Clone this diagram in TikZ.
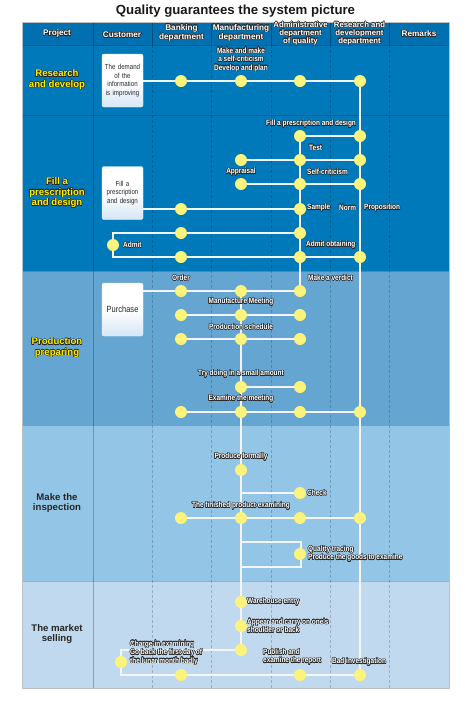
\documentclass[tikz,border=0pt]{standalone}
\usepackage{fontspec}
\setmainfont{Liberation Sans}
\newfontfamily\narrowfont[FakeStretch=0.84]{Liberation Sans}
\usepackage{contour}
\contourlength{0.5pt}
\contournumber{16}
\definecolor{hdrc}{HTML}{0070B0}
\definecolor{bandA}{HTML}{0079BA}
\definecolor{bandB}{HTML}{64A5D2}
\definecolor{bandC}{HTML}{93C5E7}
\definecolor{bandD}{HTML}{C0D9EE}
\definecolor{dotc}{HTML}{FBF37C}
\definecolor{olc}{HTML}{2A2A2A}
\definecolor{boxc}{HTML}{D5E6F5}
\definecolor{yel}{HTML}{FFF200}
\definecolor{linec}{HTML}{F2F6FA}
\newcommand\ol[1]{\contour{olc}{#1}}
\pgfdeclarelayer{bg}
\pgfdeclarelayer{lines}
\pgfsetlayers{bg,lines,main}
\tikzset{
  dot/.style={circle, fill=dotc, minimum size=12pt, inner sep=0pt},
  lbl/.style={font=\narrowfont\bfseries\fontsize{7.7}{8.4}\selectfont, text=white, inner sep=0pt, align=center},
  lbll/.style={lbl, anchor=west, align=left},
  hdr/.style={font=\bfseries\fontsize{8.2}{8}\selectfont, text=white, inner sep=0pt, align=center},
  hdrs/.style={font=\bfseries\fontsize{7.8}{7.8}\selectfont, text=white, inner sep=0pt, align=center},
  rowlbl/.style={font=\bfseries\fontsize{9.6}{10.5}\selectfont, text=yel, inner sep=0pt, align=center},
  rowlbld/.style={font=\bfseries\fontsize{9.6}{10.5}\selectfont, text=black!85, inner sep=0pt, align=center},
  cbox/.style={draw=white!70!boxc, rounded corners=2pt, top color=white, bottom color=boxc, middle color=white,
    minimum width=41pt, minimum height=53pt, text width=39pt, align=center, inner sep=0pt,
    font=\narrowfont\fontsize{7.3}{8.6}\selectfont, text=black!85},
  flow/.style={draw=linec, line width=1.1pt},
  coldiv/.style={draw=black, draw opacity=0.2, line width=0.6pt, dash pattern=on 2.5pt off 2.5pt},
}
\begin{document}
\begin{tikzpicture}[x=1pt,y=-1pt]
\useasboundingbox (0,0) rectangle (471,710);
\begin{pgfonlayer}{bg}
  \fill[white] (0,0) rectangle (471,710);
  \fill[hdrc] (22,22) rectangle (449,45);
  \fill[bandA] (22,45) rectangle (449,271);
  \fill[bandB] (22,271) rectangle (449,425);
  \fill[bandC] (22,425) rectangle (449,581);
  \fill[bandD] (22,581) rectangle (449,688);
  \foreach \yy in {45,115,271,425,581}
    \draw[black, opacity=0.18, line width=1pt] (22,\yy) -- (449,\yy);
  \foreach \xx in {93,152,211,271,330,389}
    \draw[black, opacity=0.3, line width=0.6pt] (\xx,22) -- (\xx,45);
  \draw[black, opacity=0.25, line width=0.6pt] (93,45) -- (93,688);
  \foreach \xx in {152,211,271,330,389}
    \draw[coldiv] (\xx,45) -- (\xx,688);
  \draw[black!25, line width=0.8pt] (22,22) rectangle (449,688);
\end{pgfonlayer}

% title
\node[font=\bfseries\fontsize{13.2}{15}\selectfont, text=black!90, inner sep=0pt] (title) at (235.5,11) {Quality guarantees the system picture};

% header
\node[hdr] (hProj) at (57,34) {\ol{Project}};
\node[hdr] (hCust) at (122,35) {\ol{Customer}};
\node[hdr] (hBank) at (181.5,33) {\ol{Banking}\\\ol{department}};
\node[hdr] (hManu) at (241,33) {\ol{Manufacturing}\\\ol{department}};
\node[hdrs] (hAdm) at (300.5,33.5) {\ol{Administrative}\\\ol{department}\\\ol{of quality}};
\node[hdrs] (hRD) at (359.5,33.5) {\ol{Research and}\\\ol{development}\\\ol{department}};
\node[hdr] (hRem) at (419,34) {\ol{Remarks}};

% row labels
\node[rowlbl] (lRes) at (57,80) {\ol{Research}\\\ol{and develop}};
\node[rowlbl] (lFill) at (57,193) {\ol{Fill a}\\\ol{prescription}\\\ol{and design}};
\node[rowlbl] (lProd) at (57,348) {\ol{Production}\\\ol{preparing}};
\node[rowlbld] (lIns) at (57,503) {Make the\\inspection};
\node[rowlbld] (lMkt) at (57,634) {The market\\selling};

% customer boxes
\node[cbox] (bx1) at (122.5,80.5) {The demand\\of the\\information\\is improving};
\node[cbox] (bx2) at (122.5,193) {Fill a\\prescription\\and design};
\node[cbox, font=\narrowfont\fontsize{9}{10}\selectfont] (bx3) at (122.5,309.5) {Purchase};

% research dots
\node[dot] (r1) at (181,81) {};
\node[dot] (r2) at (241,81) {};
\node[dot] (r3) at (300,81) {};
\node[dot] (r4) at (360,81) {};
% fill dots
\node[dot] (f1b) at (300,136) {};
\node[dot] (f1c) at (360,136) {};
\node[dot] (f2a) at (241,160) {};
\node[dot] (f2b) at (300,160) {};
\node[dot] (f2c) at (360,160) {};
\node[dot] (f3a) at (241,184) {};
\node[dot] (f3b) at (300,184) {};
\node[dot] (f3c) at (360,184) {};
\node[dot] (f4a) at (181,209) {};
\node[dot] (f4b) at (300,209) {};
\node[dot] (f5a) at (181,233) {};
\node[dot] (f5b) at (300,233) {};
\node[dot] (adm) at (113,245) {};
\node[dot] (f6a) at (181,257) {};
\node[dot] (f6b) at (300,257) {};
\node[dot] (f6c) at (360,257) {};
\coordinate (ac1) at (113,233);
\coordinate (ac2) at (113,257);
% production dots
\node[dot] (p1a) at (181,291) {};
\node[dot] (p1b) at (241,291) {};
\node[dot] (p1c) at (300,291) {};
\node[dot] (p2a) at (181,315) {};
\node[dot] (p2b) at (241,315) {};
\node[dot] (p2c) at (300,315) {};
\node[dot] (p3a) at (181,339) {};
\node[dot] (p3b) at (241,339) {};
\node[dot] (p3c) at (300,339) {};
\node[dot] (p4b) at (241,387) {};
\node[dot] (p4c) at (300,387) {};
\node[dot] (p5a) at (181,412) {};
\node[dot] (p5b) at (241,412) {};
\node[dot] (p5c) at (300,412) {};
\node[dot] (p5d) at (360,412) {};
% inspection dots
\node[dot] (i1) at (241,470) {};
\node[dot] (chk) at (300,493) {};
\coordinate (ck0) at (241,493);
\node[dot] (i2a) at (181,518) {};
\node[dot] (i2b) at (241,518) {};
\node[dot] (i2c) at (300,518) {};
\node[dot] (i2d) at (360,518) {};
\node[dot] (qt) at (300,554) {};
\coordinate (q0) at (241,542);
\coordinate (q1) at (301,542);
\coordinate (q2) at (301,567);
\coordinate (q3) at (241,567);
% market dots
\node[dot] (m1) at (241,602) {};
\node[dot] (m2) at (241,626) {};
\node[dot] (m3) at (241,650) {};
\node[dot] (m4) at (121,662) {};
\node[dot] (m5a) at (181,675) {};
\node[dot] (m5b) at (300,675) {};
\node[dot] (m5c) at (360,675) {};
\coordinate (mc1) at (121,650);
\coordinate (mc2) at (121,675);

% connectors
\begin{pgfonlayer}{lines}
  \draw[flow] (r4) -- (m5c);
  \draw[flow] (f1b) -- (p1c);
  \draw[flow] (p1b) -- (m3);
  \draw[flow] (bx1.east |- r1) -- (r1) -- (r2) -- (r3) -- (r4);
  \draw[flow] (f1b) -- (f1c);
  \draw[flow] (f2a) -- (f2b) -- (f2c);
  \draw[flow] (f3a) -- (f3b) -- (f3c);
  \draw[flow] (bx2.east |- f4a) -- (f4a) -- (f4b);
  \draw[flow] (f5b) -- (f5a) -- (ac1) -- (ac2) -- (f6a) -- (f6b) -- (f6c);
  \draw[flow] (bx3.east |- p1a) -- (p1a) -- (p1b) -- (p1c);
  \draw[flow] (p2a) -- (p2b) -- (p2c);
  \draw[flow] (p3a) -- (p3b) -- (p3c);
  \draw[flow] (p4b) -- (p4c);
  \draw[flow] (p5a) -- (p5b) -- (p5c) -- (p5d);
  \draw[flow] (ck0) -- (chk);
  \draw[flow] (i2a) -- (i2b) -- (i2c) -- (i2d);
  \draw[flow] (q0) -- (q1) -- (q2) -- (q3);
  \draw[flow] (m3) -- (mc1) -- (mc2) -- (m5a) -- (m5b) -- (m5c);
\end{pgfonlayer}

% labels
\node[lbl] (tR1) at (241,60) {\ol{Make and make}\\\ol{a self-criticism}\\\ol{Develop and plan}};
\node[lbl] (tF1) at (311,124) {\ol{Fill a prescription and design}};
\node[lbll] (tF2) at (309,148) {\ol{Test}};
\node[lbl] (tF3) at (241,172) {\ol{Appraisal}};
\node[lbll] (tF4) at (307,172) {\ol{Self-criticism}};
\node[lbll] (tF5) at (307,208) {\ol{Sample}};
\node[lbll] (tF6) at (339,208) {\ol{Norm}};
\node[lbll] (tF7) at (364,208) {\ol{Proposition}};
\node[lbll] (tF8) at (123,245) {\ol{Admit}};
\node[lbll] (tF9) at (306,245) {\ol{Admit obtaining}};
\node[lbl] (tP1) at (181,278) {\ol{Order}};
\node[lbll] (tP2) at (308,278) {\ol{Make a verdict}};
\node[lbl] (tP3) at (241,302) {\ol{Manufacture Meeting}};
\node[lbl] (tP4) at (241,327) {\ol{Production schedule}};
\node[lbl] (tP5) at (241,374) {\ol{Try doing in a small amount}};
\node[lbl] (tP6) at (241,399) {\ol{Examine the meeting}};
\node[lbl] (tI1) at (241,457) {\ol{Produce formally}};
\node[lbll] (tI2) at (307,493) {\ol{Check}};
\node[lbl] (tI3) at (241,506) {\ol{The finished product examining}};
\node[lbll] (tI4) at (308,554) {\ol{Quality tracing}\\\ol{Produce the goods to examine}};
\node[lbll] (tM1) at (247,602) {\ol{Warehouse entry}};
\node[lbll] (tM2) at (247,626) {\ol{Appear and carry on one's}\\\ol{shoulder or back}};
\node[lbll] (tM3) at (130,653) {\ol{Charge-in examining}\\\ol{Go back the first day of}\\\ol{the lunar month badly}};
\node[lbll] (tM4) at (263,657) {\ol{Publish and}\\\ol{examine the report}};
\node[lbll] (tM5) at (332,662) {\ol{Bad investigation}};
\end{tikzpicture}
\end{document}
